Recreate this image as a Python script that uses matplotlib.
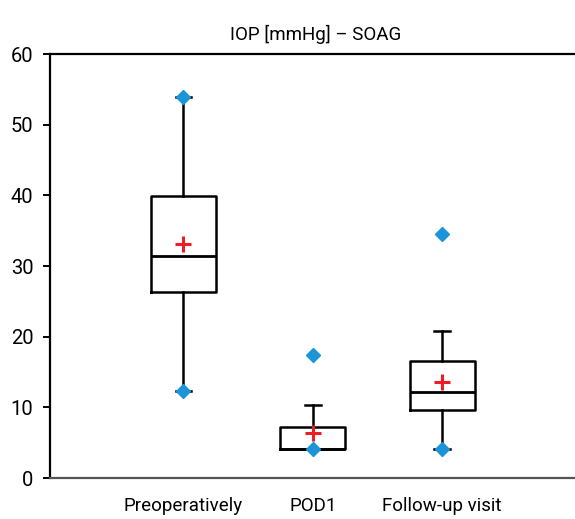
import numpy as np
import matplotlib.pyplot as plt

plt.rcParams['font.family'] = ['Roboto', 'DejaVu Sans']

groups = ["Preoperatively", "POD1", "Follow-up visit"]
q1 = [26.3, 4.1, 9.6]
median = [31.4, 4.1, 12.2]
q3 = [39.9, 7.2, 16.5]
whis_lo = [12.3, 4.1, 4.1]
whis_hi = [53.9, 10.3, 20.8]
mean = [33.1, 6.4, 13.6]
minimum = [12.3, 4.1, 4.1]
maximum = [53.9, 17.4, 34.5]

stats = []
for i in range(len(groups)):
    stats.append(dict(label=groups[i], q1=q1[i], med=median[i], q3=q3[i],
                      whislo=whis_lo[i], whishi=whis_hi[i], mean=mean[i], fliers=[]))

fig = plt.figure(figsize=(5.75, 5.19), dpi=100)
ax = fig.add_axes([50/575, 41/519, 1 - 50/575 + 0.01, (478-54)/519])

pos = np.arange(1, len(groups)+1)
ax.bxp(stats, positions=pos, widths=0.5, capwidths=0.12, showmeans=True,
       boxprops=dict(color='black', linewidth=1.8),
       medianprops=dict(color='black', linewidth=2.0),
       whiskerprops=dict(color='black', linewidth=1.8),
       capprops=dict(color='black', linewidth=1.8),
       meanprops=dict(marker='+', markeredgecolor='#ee1c25', markersize=12, markeredgewidth=2.2))
ax.plot(pos, minimum, 'D', color='#1b95d8', markersize=7, zorder=5)
ax.plot(pos, maximum, 'D', color='#1b95d8', markersize=7, zorder=5)

ax.set_xlim(-0.03, 4.07)
ax.set_ylim(0, 60)
ax.set_yticks([0, 10, 20, 30, 40, 50, 60])
ax.tick_params(axis='y', labelsize=14.5, length=5, width=1.4, direction='out', pad=7)
ax.tick_params(axis='x', labelsize=13.5, length=0, pad=14)
ax.set_xticks(pos)
ax.set_xticklabels(groups)
for s in ['left', 'top']:
    ax.spines[s].set_linewidth(1.6)
ax.spines['bottom'].set_color('#555555')
ax.spines['bottom'].set_linewidth(1.6)
ax.spines['right'].set_visible(False)
ax.set_title("IOP [mmHg] – SOAG", fontsize=13.5, pad=10)

fig.savefig("out.png", dpi=100)
